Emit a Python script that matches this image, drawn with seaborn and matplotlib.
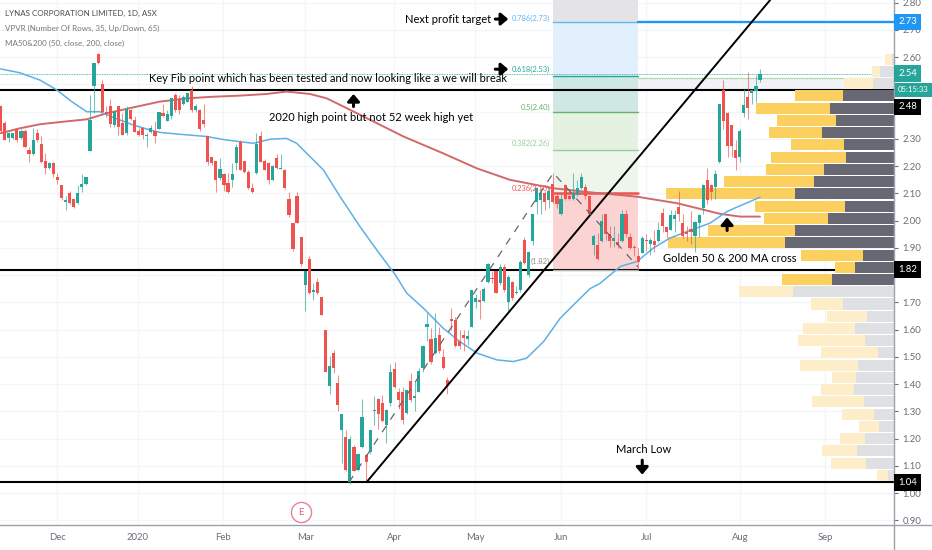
import numpy as np
import pandas as pd
import matplotlib
matplotlib.use('Agg')
import matplotlib.pyplot as plt
from matplotlib.lines import Line2D
import seaborn as sns

# candles, one per trading day
opens = [2.42,2.36,2.305,2.305,2.335,2.305,2.33,2.26,2.245,2.32,
         2.28,2.22,2.195,2.21,2.16,2.13,2.07,2.10,2.08,2.065,
         2.125,2.135,2.255,2.495,2.61,2.50,2.40,2.42,2.35,2.42,
         2.36,2.32,2.405,2.37,2.33,2.34,2.31,2.325,2.33,2.335,
         2.395,2.365,2.385,2.46,2.445,2.43,2.435,2.48,2.405,2.405,
         2.37,2.31,2.235,2.22,2.155,2.17,2.14,2.15,2.21,2.29,
         2.22,2.18,2.12,2.175,2.31,2.22,2.21,2.15,2.23,2.19,
         2.185,2.08,1.99,2.09,1.94,1.765,1.86,1.74,1.775,1.72,
         1.60,1.395,1.515,1.405,1.23,1.205,1.04,1.17,1.085,1.17,
         1.14,1.15,1.30,1.345,1.33,1.25,1.33,1.455,1.37,1.37,
         1.295,1.41,1.35,1.37,1.46,1.61,1.565,1.515,1.58,1.50,
         1.415,1.64,1.635,1.56,1.58,1.565,1.61,1.70,1.71,1.705,
         1.775,1.79,1.815,1.77,1.83,1.70,1.775,1.735,1.745,1.93,
         1.80,1.925,2.07,2.075,2.10,2.075,2.135,2.09,2.025,2.13,
         2.09,2.08,2.095,2.12,2.125,2.09,1.91,1.91,1.925,2.025,
         1.95,1.925,1.92,1.925,2.025,1.94,1.905,1.87,1.88,1.93,
         1.915,1.925,1.925,2.03,1.975,1.965,2.005,2.05,1.99,1.96,
         1.97,1.945,1.99,2.045,2.15,2.13,2.125,2.215,2.48,2.395,
         2.35,2.26,2.235,2.395,2.455,2.47,2.475,2.515]
closes = [2.33,2.295,2.32,2.32,2.295,2.33,2.27,2.245,2.295,2.295,
          2.215,2.195,2.21,2.17,2.15,2.085,2.075,2.065,2.05,2.10,
          2.135,2.16,2.37,2.58,2.58,2.40,2.39,2.355,2.40,2.345,
          2.315,2.41,2.375,2.325,2.315,2.315,2.315,2.34,2.31,2.40,
          2.385,2.39,2.45,2.405,2.405,2.455,2.47,2.405,2.42,2.335,
          2.355,2.215,2.21,2.15,2.19,2.13,2.105,2.17,2.27,2.185,
          2.18,2.12,2.105,2.28,2.215,2.185,2.15,2.20,2.195,2.195,
          2.12,2.02,1.895,1.99,1.84,1.815,1.735,1.745,1.735,1.655,
          1.445,1.465,1.46,1.325,1.29,1.085,1.20,1.08,1.145,1.28,
          1.115,1.23,1.305,1.29,1.265,1.305,1.445,1.39,1.34,1.27,
          1.38,1.34,1.355,1.45,1.54,1.62,1.48,1.57,1.52,1.46,
          1.395,1.63,1.54,1.54,1.57,1.575,1.745,1.715,1.70,1.75,
          1.84,1.785,1.735,1.83,1.745,1.795,1.715,1.74,1.85,1.845,
          1.885,2.025,2.12,2.10,2.07,2.11,2.07,2.06,2.08,2.08,
          2.08,2.10,2.12,2.16,2.09,2.025,1.945,1.86,2.00,1.95,
          1.925,1.935,1.91,2.025,1.95,1.90,1.90,1.85,1.935,1.925,
          1.93,1.91,1.965,1.98,1.96,2.02,2.02,2.025,1.945,1.95,
          1.96,1.995,2.02,2.13,2.075,2.105,2.17,2.43,2.365,2.275,
          2.275,2.23,2.33,2.425,2.415,2.48,2.495,2.54]
highs = [2.425,2.365,2.325,2.32,2.34,2.335,2.335,2.27,2.34,2.335,
         2.31,2.25,2.215,2.215,2.175,2.13,2.09,2.11,2.08,2.13,
         2.17,2.16,2.46,2.58,2.615,2.515,2.42,2.445,2.405,2.42,
         2.395,2.42,2.41,2.385,2.34,2.345,2.32,2.35,2.365,2.40,
         2.43,2.405,2.45,2.47,2.46,2.46,2.47,2.495,2.43,2.41,
         2.43,2.31,2.235,2.22,2.23,2.175,2.175,2.21,2.28,2.295,
         2.22,2.185,2.14,2.32,2.33,2.225,2.215,2.205,2.245,2.245,
         2.19,2.105,1.99,2.105,1.94,1.815,1.87,1.77,1.79,1.72,
         1.60,1.505,1.525,1.435,1.29,1.23,1.21,1.175,1.145,1.345,
         1.145,1.23,1.355,1.35,1.36,1.31,1.475,1.48,1.385,1.39,
         1.38,1.44,1.41,1.46,1.545,1.66,1.605,1.66,1.61,1.53,
         1.425,1.68,1.645,1.60,1.60,1.60,1.745,1.73,1.745,1.755,
         1.845,1.815,1.815,1.84,1.84,1.80,1.78,1.76,1.855,1.94,
         1.89,2.025,2.125,2.12,2.11,2.125,2.175,2.105,2.10,2.135,
         2.11,2.175,2.15,2.175,2.135,2.09,1.95,1.955,2.025,2.025,
         1.98,1.98,1.955,2.04,2.04,1.955,1.91,1.90,1.945,1.95,
         1.935,1.965,1.995,2.045,1.98,2.04,2.04,2.11,2.025,1.98,
         2.035,2.0,2.025,2.135,2.195,2.135,2.185,2.43,2.515,2.40,
         2.35,2.295,2.335,2.485,2.545,2.485,2.535,2.555]
lows = [2.325,2.295,2.29,2.30,2.29,2.30,2.265,2.215,2.24,2.29,
        2.21,2.17,2.19,2.16,2.135,2.075,2.04,2.06,2.045,2.06,
        2.105,2.13,2.255,2.395,2.575,2.395,2.38,2.345,2.345,2.315,
        2.315,2.315,2.37,2.325,2.31,2.30,2.27,2.32,2.285,2.335,
        2.38,2.365,2.375,2.40,2.39,2.425,2.435,2.40,2.40,2.33,
        2.345,2.205,2.205,2.105,2.15,2.11,2.10,2.125,2.185,2.185,
        2.175,2.115,2.10,2.17,2.215,2.185,2.135,2.145,2.19,2.19,
        2.115,2.015,1.89,1.99,1.835,1.67,1.73,1.71,1.73,1.655,
        1.445,1.365,1.44,1.30,1.11,1.08,1.035,1.08,1.08,1.165,
        1.04,1.145,1.25,1.235,1.26,1.185,1.32,1.385,1.31,1.255,
        1.29,1.335,1.30,1.37,1.445,1.56,1.475,1.51,1.515,1.455,
        1.365,1.60,1.535,1.53,1.52,1.545,1.61,1.68,1.64,1.70,
        1.77,1.77,1.735,1.765,1.74,1.67,1.71,1.73,1.74,1.84,
        1.795,1.91,2.025,2.025,2.04,2.045,2.065,2.045,2.02,2.075,
        2.075,2.075,2.09,2.115,2.08,2.02,1.875,1.855,1.92,1.93,
        1.905,1.905,1.90,1.92,1.94,1.895,1.87,1.82,1.88,1.89,
        1.875,1.885,1.92,1.96,1.935,1.965,1.96,2.00,1.935,1.925,
        1.915,1.885,1.94,2.025,2.06,2.075,2.08,2.21,2.335,2.235,
        2.235,2.185,2.215,2.38,2.375,2.43,2.435,2.51]

# moving averages, read at a few bars along each curve
ma50_bar = [0,4.7,9.7,13.8,17.5,21.2,24.4,28.2,32.7,36.8,39.2,44.2,50.7,55.6,62.3,66.4,70.4,72.9,76.2,79.5,
            83.6,88.5,92.6,97.2,100,104.1,109,113.1,117.3,122.2,126.3,129.5,133.7,137.8,141.9,145.1,
            147.6,150.1,152.6,156.7,160.7,164.8,169,174.7,178.8,181.2,187]
ma50_val = [2.557,2.543,2.516,2.48,2.437,2.40,2.40,2.376,2.351,2.333,2.324,2.317,2.309,2.296,2.284,2.299,
            2.302,2.284,2.235,2.186,2.088,1.978,1.893,1.801,1.734,1.679,1.605,1.556,1.514,1.489,1.483,
            1.495,1.556,1.642,1.703,1.75,1.77,1.801,1.832,1.85,1.899,1.936,1.96,1.991,2.033,2.049,2.086]
ma200_bar = [0,4.7,9.7,14.6,21.2,26.1,32.7,39.2,45.9,52.4,58.9,65.5,70.4,76.2,80.3,84.4,91,99.2,109,117.3,
             125.4,136.1,145.9,152.6,156.7,166.6,171.5,177.2,182.1,187]
ma200_val = [2.321,2.339,2.354,2.362,2.372,2.394,2.416,2.437,2.449,2.455,2.459,2.465,2.474,2.465,2.449,2.419,
             2.37,2.309,2.247,2.192,2.15,2.119,2.103,2.094,2.088,2.064,2.046,2.025,2.015,2.015]

# volume profile rows, top row first
vp_up = [20,25,88,143,222,176,158,160,224,174,271,387,271,191,263,351,185,59,150,
         162,94,119,154,203,171,174,72,100,155,95,59,75,107,106,31]
vp_down = [7,42,62,154,192,174,217,150,145,210,239,298,147,199,296,326,94,117,185,
           302,154,81,118,86,49,108,113,120,90,60,45,87,110,84,19]

month_bars = [13.9,33.8,54.8,75,96.9,116.8,138,159,182.1,203]
month_labels = ['Dec','2020','Feb','Mar','Apr','May','Jun','Jul','Aug','Sep']
price_ticks = [0.9,1.0,1.1,1.2,1.3,1.4,1.5,1.6,1.7,1.8,1.9,2.0,2.1,2.2,2.3,2.4,2.5,2.6,2.7,2.8]
hidden_ticks = [2.5,1.8]

fib_prices = [2.81,2.73,2.53,2.40,2.26,2.10,1.82]
fib_fills = ['#e4e4e6','#e1f0fc','#cfe8e3','#e5f2e2','#eef6ec','#fbd3d3']
fib_lines = ['#64b5f6','#26a69a','#6aaf6a','#9ccc9c','#ef5350','#c8c8c8']
fib_labels = ['0.786(2.73)','0.618(2.53)','0.5(2.40)','0.382(2.26)','0.236(2.10)','(1.82)']
fib_label_y = [2.743,2.556,2.416,2.283,2.117,1.85]
key_levels = [2.48,1.82,1.04]

GREEN = '#26a69a'
RED = '#ef5350'

sns.set_theme(style='white')
plt.rcParams['font.family'] = ['Lato', 'DejaVu Sans']

df = pd.DataFrame({'open': opens, 'close': closes, 'high': highs, 'low': lows})
df['bar'] = np.arange(len(df))
df['color'] = np.where(df['close'] >= df['open'], GREEN, RED)

fig = plt.figure(figsize=(9.32, 5.5), dpi=100)
ax = fig.add_axes([0, 25 / 550, 894 / 932, 525 / 550])
xmin, xmax = -0.16, 220.0
ax.set_xlim(xmin, xmax)
ax.set_ylim(0.883, 2.81)
ax.set_xticks(month_bars)
ax.set_xticklabels(month_labels)
ax.yaxis.tick_right()
ax.set_yticks(price_ticks)
ax.set_yticklabels(['' if p in hidden_ticks else '%.2f' % p for p in price_ticks])
ax.tick_params(axis='both', labelsize=6.8, colors='#6a6d78', length=3, width=0.8, pad=3)
ax.grid(True, color='#f4f5f7', lw=1)
ax.set_axisbelow(True)
for side in ['top', 'left']:
    ax.spines[side].set_visible(False)
for side in ['right', 'bottom']:
    ax.spines[side].set_color('#9ea1ab')
    ax.spines[side].set_linewidth(1.0)
fig.add_artist(Line2D([894 / 932, 894 / 932], [0, 25 / 550], color='#9ea1ab', lw=1.0))
fig.add_artist(Line2D([894 / 932, 1], [25 / 550, 25 / 550], color='#9ea1ab', lw=1.0))

# fib retracement block
fib_start, fib_end = 136.1, 157.0
for i in range(6):
    ax.fill_between([fib_start, fib_end], fib_prices[i + 1], fib_prices[i], color=fib_fills[i], lw=0, zorder=1)
    ax.text(fib_start - 0.8, fib_label_y[i], fib_labels[i], color=fib_lines[i] if i < 5 else '#909090',
            fontsize=5.4, ha='right', va='center', zorder=6)
for i in range(1, 5):
    ax.plot([fib_start, fib_end], [fib_prices[i]] * 2, color=fib_lines[i - 1], lw=1.0, zorder=2)
ax.plot([fib_start, fib_end], [2.10, 2.10], color=RED, lw=1.8, zorder=2)
ax.plot([fib_start, fib_end], [1.82, 1.82], color='#b0b0b0', lw=0.9, zorder=2)
ax.plot([fib_end, xmax], [2.73, 2.73], color='#2196f3', lw=1.7, zorder=2)

# pale band and thin lines near the last price
ax.fill_between([fib_end, xmax], 2.485, 2.525, color='#f1f2f6', lw=0, zorder=0.5)
ax.plot([fib_end, xmax], [2.525, 2.525], color='#b7d8b0', lw=0.9, zorder=1.5)
ax.plot([xmin, xmax], [2.54, 2.54], color=GREEN, lw=0.6, ls=(0, (1, 1)), zorder=1.5)

# key horizontal levels
for level in key_levels:
    ax.plot([xmin, xmax], [level, level], color='black', lw=1.5, zorder=1.8, solid_capstyle='butt')

# volume profile
vp_prices = np.linspace(2.593, 1.065, len(vp_up))
vp_scale = 1 / 12.18
for i, (p, up, down) in enumerate(zip(vp_prices, vp_up, vp_down)):
    pale = i <= 2 or i >= 19
    ax.barh(p, down * vp_scale, left=xmax - down * vp_scale, height=0.0405,
            color='#dfe0e4' if pale else '#676873', lw=0, zorder=2)
    ax.barh(p, up * vp_scale, left=xmax - (down + up) * vp_scale, height=0.0405,
            color='#fdeec9' if pale else '#fcd05f', lw=0, zorder=2)

# moving averages
sns.lineplot(x=ma200_bar, y=ma200_val, ax=ax, color='#d06a6a', lw=1.4, estimator=None, zorder=3)
sns.lineplot(x=ma50_bar, y=ma50_val, ax=ax, color='#5fb0e5', lw=1.1, estimator=None, zorder=3)

# candles
ax.vlines(df['bar'], df['low'], df['high'], color=df['color'], lw=0.75, alpha=0.65, zorder=4)
ax.bar(df['bar'], (df['close'] - df['open']).abs().clip(lower=0.005),
       bottom=df[['open', 'close']].min(axis=1), width=0.78, color=df['color'], lw=0, zorder=4)

# trend lines
ax.plot([90.1, 189.5], [1.04, 2.81], color='black', lw=1.4, zorder=5)
ax.plot([85.8, 136.1, 157], [1.04, 2.175, 1.83], color='#666666', lw=0.9, ls=(0, (6, 6)), zorder=5)

# annotations
note = dict(color='black', fontsize=8, va='center', zorder=7)
ax.text(120.8, 2.74, 'Next profit target', ha='right', **note)
ax.text(80.6, 2.523, 'Key Fib point which has been tested and now looking like a we will break', ha='center', **note)
ax.text(91.2, 2.377, '2020 high point but not 52 week high yet', ha='center', **note)
ax.text(179.6, 1.862, 'Golden 50 & 200 MA cross', ha='center', **note)
ax.text(158.3, 1.159, 'March Low', ha='center', **note)

arrow = dict(arrowstyle='-|>,head_width=0.3,head_length=0.35', color='black', lw=2.2, shrinkA=0, shrinkB=0)
for tail, head in [((121.8, 2.74), (125, 2.74)),
                   ((121.8, 2.556), (125, 2.556)),
                   ((86.9, 2.419), (86.9, 2.465)),
                   ((178.9, 1.964), (178.9, 2.012)),
                   ((158, 1.121), (158, 1.068))]:
    ax.annotate('', xy=head, xytext=tail, arrowprops=arrow, zorder=7)

# earnings marker
ax.scatter([74], [0.93], s=210, facecolor='white', edgecolor='#e8829b', lw=1, zorder=7, clip_on=False)
ax.text(74, 0.93, 'E', color='#e0607f', fontsize=7, ha='center', va='center', zorder=8)

# header
for y, txt, col in [(0.974, 'LYNAS CORPORATION LIMITED, 1D, ASX', '#4a4d57'),
                    (0.946, 'VPVR (Number Of Rows, 35, Up/Down, 65)', '#73767f'),
                    (0.918, 'MA50&200 (50, close, 200, close)', '#73767f')]:
    ax.text(5 / 894, y, txt, color=col, fontsize=5.8, ha='left', va='center', transform=ax.transAxes)

# price tags on the scale
tags = [(2.73, '2.73', '#2196f3', 6.8), (2.54, '2.54', GREEN, 6.8), (2.48, '05:15:33', GREEN, 5.6),
        (2.418, '2.48', 'black', 6.8), (1.82, '1.82', 'black', 6.8), (1.04, '1.04', 'black', 6.8)]
for y, txt, col, size in tags:
    ax.text(xmax + 1.0, y, txt, color='white', fontsize=size, ha='left', va='center', zorder=9, clip_on=False,
            bbox=dict(boxstyle='square,pad=0.4', fc=col, ec='none'))

fig.savefig('out.png', dpi=100)
